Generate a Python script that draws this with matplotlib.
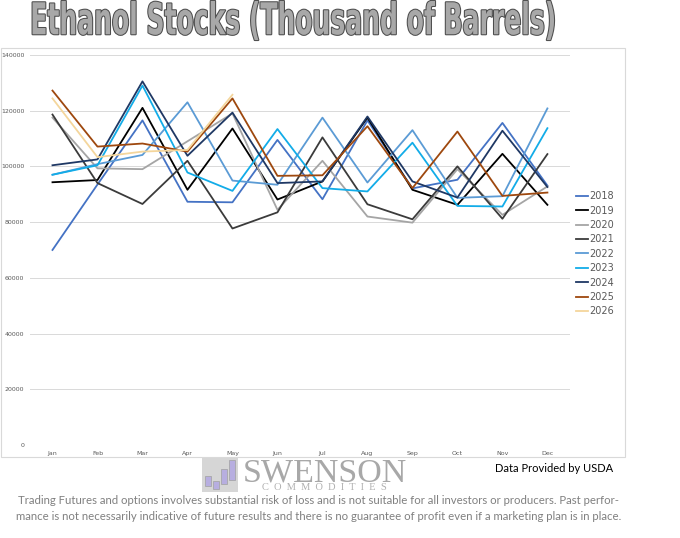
import numpy as np
import matplotlib
matplotlib.use("Agg")
import matplotlib.pyplot as plt
import matplotlib.patheffects as pe
from matplotlib.patches import Rectangle
from matplotlib.transforms import Affine2D

months = ["Jan", "Feb", "Mar", "Apr", "May", "Jun", "Jul", "Aug", "Sep", "Oct", "Nov", "Dec"]

# ethanol stocks, thousand barrels
s2018 = [70000, 93500, 116500, 87300, 87100, 109500, 88200, 116500, 92100, 95200, 115600, 93100]
s2019 = [94300, 95100, 121000, 91600, 113600, 88100, 94600, 117500, 91600, 86200, 104500, 86200]
s2020 = [117500, 99300, 99000, 109000, 119000, 84400, 102000, 82000, 79800, 99000, 82600, 92800]
s2021 = [118600, 94000, 86500, 102000, 77700, 83500, 110400, 86400, 81000, 100000, 81200, 104400]
s2022 = [97000, 100800, 104100, 123000, 94900, 93400, 117500, 94200, 113000, 88700, 89300, 120800]
s2023 = [97000, 100400, 129000, 97800, 91200, 113400, 92200, 91000, 108500, 85800, 85600, 113700]
s2024 = [100400, 102500, 130500, 103800, 119300, 94000, 94600, 117900, 94600, 88800, 112800, 92600]
s2025 = [127200, 107100, 108200, 105300, 124400, 96600, 96800, 114400, 92200, 112500, 89400, 90600]
s2026 = [124400, 103300, 105300, 105900, 125700]

years = ["2018", "2019", "2020", "2021", "2022", "2023", "2024", "2025", "2026"]
series = [s2018, s2019, s2020, s2021, s2022, s2023, s2024, s2025, s2026]
colors = ["#4472C4", "#000000", "#A5A5A5", "#3B3B3B", "#5B9BD5",
          "#12ACE8", "#1F3864", "#9E480E", "#F4D69C"]


# path effect that stretches the title vertically (word-art look)
class TallStroke(pe.Stroke):
    def __init__(self, sy, cy, **kw):
        super().__init__(**kw)
        self.sy, self.cy = sy, cy

    def draw_path(self, renderer, gc, tpath, affine, rgbFace):
        a = affine + Affine2D().translate(0, -self.cy).scale(1, self.sy).translate(0, self.cy)
        super().draw_path(renderer, gc, tpath, a, rgbFace)


fig = plt.figure(figsize=(6.8, 5.38), dpi=100)
fig.patch.set_facecolor("white")

# chart frame
fig.patches.append(Rectangle((0.0015, 0.1506), 0.918, 0.760, transform=fig.transFigure,
                             fill=False, edgecolor="#D9D9D9", linewidth=0.8))

ax = fig.add_axes([0.0441, 0.1729, 0.794, 0.725])
x = np.arange(len(months))
for yr, vals, c in zip(years, series, colors):
    ax.plot(x[:len(vals)], vals, color=c, linewidth=1.3, label=yr)

ax.set_xlim(-0.5, 11.5)
ax.set_ylim(0, 140000)
ax.set_yticks(np.arange(0, 140001, 20000))
ax.set_xticks(x)
ax.set_xticklabels(months)
ax.tick_params(axis="both", labelsize=4.5, labelcolor="#595959", length=0, pad=4)
ax.grid(axis="y", color="#D9D9D9", linewidth=0.7)
ax.set_axisbelow(True)
for sp in ax.spines.values():
    sp.set_visible(False)

leg = ax.legend(loc="center left", bbox_to_anchor=(1.005, 0.49), frameon=False,
                fontsize=7, handlelength=1.2, handletextpad=0.1, labelspacing=0.45,
                borderaxespad=0)
for t in leg.get_texts():
    t.set_color("#595959")

# title, sized to span the same width as the original
cy = 538 - 22
title = fig.text(0.431, cy / 538, "Ethanol Stocks (Thousand of Barrels)", ha="center", va="center",
                 fontsize=30, fontweight="bold", color="#A8A8A8")
fig.canvas.draw()
w = title.get_window_extent().width
title.set_fontsize(30 * 525 / w)
title.set_path_effects([
    TallStroke(1.75, cy, linewidth=1.5, foreground="#4D4D4D"),
    TallStroke(1.75, cy, linewidth=0, foreground="#A8A8A8"),
])

# logo
logo_ax = fig.add_axes([202/680, 1-492/538, 36/680, 34/538])
logo_ax.set_xlim(0, 36)
logo_ax.set_ylim(0, 34)
logo_ax.axis("off")
logo_ax.add_patch(Rectangle((0, 0), 36, 34, facecolor="#D6D6D6", edgecolor="none"))
for bx, by, bh in [(3, 6, 10), (11, 3, 8), (19, 8, 15), (27, 12, 20)]:
    logo_ax.add_patch(Rectangle((bx, by), 6, bh, facecolor="#B7AEE0", edgecolor="#A0A0A0", linewidth=0.5))
fig.text(325/680, 1-482/538, "SWENSON", ha="center", va="baseline", fontsize=24.5,
         family="Liberation Serif", color="#A8A8A8")
fig.text(324/680, 1-489.5/538, "C  O  M  M  O  D  I  T  I  E  S", ha="center", va="baseline",
         fontsize=7.5, family="Liberation Serif", color="#B0B0B0")

fig.text(0.815, 1-468/538, "Data Provided by USDA", ha="center", va="center", fontsize=8,
         family="Lato", color="black")

fig.text(0.468, 1-501/538,
         "Trading Futures and options involves substantial risk of loss and is not suitable for all investors or producers. Past perfor-",
         ha="center", va="center", fontsize=8.2, family="Lato", color="#808080")
fig.text(0.468, 1-517/538,
         "mance is not necessarily indicative of future results and there is no guarantee of profit even if a marketing plan is in place.",
         ha="center", va="center", fontsize=8.2, family="Lato", color="#808080")

fig.savefig("out.png", dpi=100, facecolor="white")
